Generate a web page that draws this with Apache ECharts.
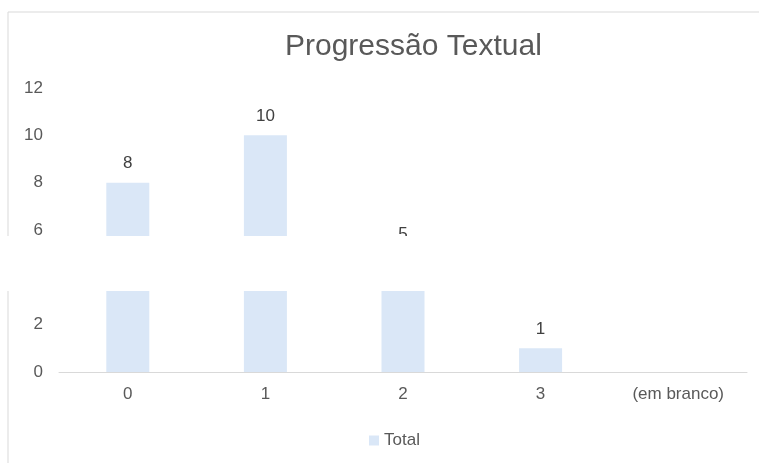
<!DOCTYPE html>
<html><head><meta charset="utf-8">
<script src="https://cdn.jsdelivr.net/npm/echarts@6/dist/echarts.min.js"></script>
<style>html,body{margin:0;padding:0;background:#fff}#c{width:759px;height:463px}</style>
</head><body><div id="c"></div>
<script>
const titleText = 'Progressão Textual';
const categories = ['0', '1', '2', '3', '(em branco)'];
const totals = [8, 10, 5, 1, null];
const seriesName = 'Total';

const chart = echarts.init(document.getElementById('c'));
chart.setOption({
  animation: false,
  backgroundColor: '#fff',
  textStyle: { fontFamily: 'Liberation Sans, Arial, sans-serif' },
  title: {
    text: titleText, left: 280, top: 27,
    textStyle: { fontSize: 30, fontWeight: 'normal', color: '#595959', fontFamily: 'Liberation Sans' }
  },
  legend: {
    data: [seriesName], left: 364, top: 427, icon: 'rect', itemWidth: 10, itemHeight: 10, itemGap: 5,
    textStyle: { fontSize: 17, color: '#595959' }
  },
  grid: { left: 59, right: 12, top: 88, bottom: 91, containLabel: false },
  xAxis: {
    type: 'category', data: categories,
    axisLine: { lineStyle: { color: '#d9d9d9' } },
    axisTick: { show: false },
    axisLabel: { fontSize: 17, color: '#595959', margin: 14 }
  },
  yAxis: {
    type: 'value', min: 0, max: 12, interval: 2,
    splitLine: { show: false },
    axisLine: { show: false }, axisTick: { show: false },
    axisLabel: { fontSize: 17, color: '#595959', margin: 16 }
  },
  series: [{
    name: seriesName, type: 'bar', data: totals, barWidth: 43,
    itemStyle: { color: '#dae7f7' },
    label: { show: true, position: 'top', distance: 11, fontSize: 17, color: '#404040' }
  }],
  graphic: [
    { type: 'rect', shape: { x: 8, y: 12, width: 800, height: 500 }, style: { fill: 'none', stroke: '#d9d9d9', lineWidth: 1 }, z: 100 },
    { type: 'rect', shape: { x: 0, y: 236, width: 759, height: 55 }, style: { fill: '#fff' }, z: 200 }
  ]
});
</script></body></html>
